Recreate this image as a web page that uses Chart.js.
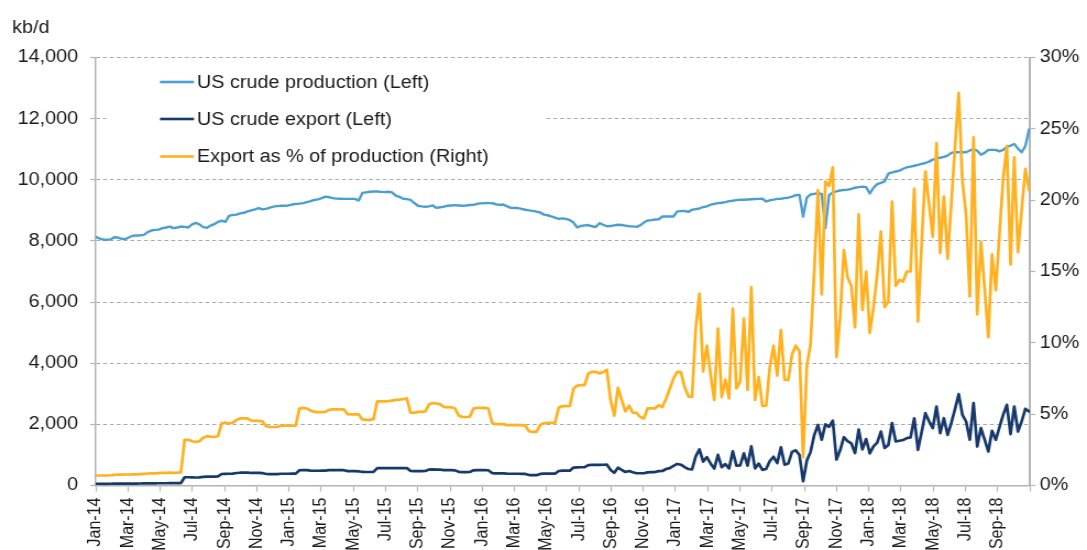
<!DOCTYPE html>
<html>
<head>
<meta charset="utf-8">
<script src="https://cdn.jsdelivr.net/npm/chart.js@4.4.0/dist/chart.umd.min.js"></script>
<style>
  html, body { margin: 0; padding: 0; background: #fff; overflow: hidden; }
  #chart { display: block; }
</style>
</head>
<body>
<canvas id="chart" width="988" height="550" style="width:1087px;height:550px"></canvas>
<script>
// tick labels, one every two months (Nov-18 sits on the right edge, no label)
const monthLabels = [
  'Jan-14', 'Mar-14', 'May-14', 'Jul-14', 'Sep-14', 'Nov-14',
  'Jan-15', 'Mar-15', 'May-15', 'Jul-15', 'Sep-15', 'Nov-15',
  'Jan-16', 'Mar-16', 'May-16', 'Jul-16', 'Sep-16', 'Nov-16',
  'Jan-17', 'Mar-17', 'May-17', 'Jul-17', 'Sep-17', 'Nov-17',
  'Jan-18', 'Mar-18', 'May-18', 'Jul-18', 'Sep-18'
];

// weekly values, first week of Jan-14 onwards (kb/d)
const production = [
  8130, 8080, 8040, 8040, 8050, 8120, 8110, 8070, 8060, 8120,
  8170, 8180, 8180, 8200, 8290, 8340, 8360, 8370, 8420, 8440,
  8470, 8420, 8440, 8470, 8460, 8440, 8540, 8590, 8540, 8450,
  8430, 8500, 8550, 8620, 8660, 8620, 8820, 8850, 8860, 8900,
  8920, 8965, 9000, 9030, 9075, 9030, 9050, 9090, 9120, 9140,
  9150, 9150, 9160, 9190, 9210, 9220, 9237, 9270, 9300, 9340,
  9360, 9400, 9450, 9430, 9400, 9385, 9380, 9375, 9375, 9375,
  9375, 9320, 9570, 9590, 9610, 9615, 9615, 9605, 9595, 9610,
  9590, 9480, 9440, 9380, 9370, 9340, 9240, 9150, 9130, 9120,
  9130, 9160, 9080, 9100, 9120, 9150, 9160, 9170, 9160, 9150,
  9160, 9175, 9180, 9215, 9230, 9237, 9237, 9237, 9200, 9180,
  9190, 9140, 9080, 9075, 9075, 9050, 9020, 9000, 8985, 8960,
  8930, 8860, 8840, 8800, 8765, 8720, 8740, 8720, 8680, 8600,
  8440, 8490, 8510, 8520, 8480, 8455, 8580, 8530, 8480, 8490,
  8510, 8530, 8520, 8500, 8480, 8475, 8460, 8510, 8600, 8670,
  8680, 8700, 8710, 8800, 8800, 8800, 8800, 8965, 8975, 8980,
  8950, 9020, 9040, 9060, 9110, 9130, 9185, 9210, 9237, 9250,
  9270, 9300, 9315, 9335, 9346, 9346, 9355, 9365, 9370, 9375,
  9380, 9290, 9330, 9350, 9374, 9380, 9400, 9418, 9450, 9500,
  9505, 8800, 9420, 9520, 9540, 9560, 9540, 8420, 9500, 9590,
  9620, 9650, 9668, 9680, 9700, 9740, 9760, 9777, 9760, 9550,
  9740, 9860, 9900, 9950, 10200, 10240, 10270, 10300, 10360, 10410,
  10430, 10460, 10490, 10520, 10550, 10595, 10660, 10690, 10720, 10750,
  10790, 10880, 10900, 10900, 10900, 10900, 10960, 11000, 10950, 10820,
  10880, 10980, 10980, 10980, 10930, 10980, 11080, 11120, 11170, 11020,
  10900, 11100, 11650
];

const crudeExport = [
  57, 57, 56, 56, 58, 61, 62, 61, 62, 63,
  64, 64, 65, 67, 70, 71, 71, 73, 74, 74,
  76, 75, 76, 78, 270, 270, 265, 262, 265, 283,
  291, 290, 290, 298, 377, 380, 385, 390, 408, 418,
  420, 423, 410, 410, 410, 408, 377, 373, 374, 375,
  385, 385, 385, 387, 388, 498, 502, 500, 488, 482,
  482, 484, 488, 500, 501, 500, 500, 500, 469, 467,
  468, 465, 443, 441, 442, 447, 567, 567, 566, 569,
  571, 569, 568, 567, 572, 476, 471, 472, 471, 474,
  520, 529, 522, 519, 502, 503, 502, 495, 448, 439,
  440, 443, 496, 501, 502, 502, 499, 406, 396, 395,
  395, 387, 384, 384, 384, 383, 379, 342, 338, 337,
  380, 386, 388, 386, 386, 475, 486, 484, 484, 585,
  591, 597, 600, 669, 676, 674, 673, 678, 687, 510,
  417, 584, 511, 442, 475, 432, 400, 400, 400, 430,
  440, 440, 470, 475, 540, 570, 640, 705, 680, 600,
  540, 530, 950, 1180, 780, 930, 720, 555, 1000, 600,
  700, 560, 1120, 650, 660, 1050, 650, 1280, 560, 715,
  510, 540, 800, 940, 730, 1250, 680, 720, 1100, 1150,
  1000, 140, 820, 1100, 1650, 1980, 1500, 2000, 1920, 2120,
  850, 1160, 1580, 1450, 1380, 1060, 1830, 1180, 1520, 1050,
  1280, 1400, 1765, 1225, 1325, 2038, 1440, 1465, 1490, 1548,
  1570, 2200, 1166, 1750, 2365, 2100, 1875, 2583, 1711, 2200,
  1657, 2050, 2500, 2987, 2310, 2093, 1500, 2692, 1275, 1875,
  1500, 1112, 1788, 1493, 1900, 2310, 2638, 1679, 2583, 1766,
  2100, 2507, 2420
];

// export as % of production (right axis)
const exportShare = [
  0.70, 0.70, 0.70, 0.70, 0.72, 0.75, 0.76, 0.76, 0.77, 0.77,
  0.78, 0.78, 0.80, 0.82, 0.84, 0.85, 0.85, 0.87, 0.88, 0.88,
  0.90, 0.89, 0.90, 0.92, 3.20, 3.20, 3.10, 3.05, 3.10, 3.35,
  3.45, 3.42, 3.40, 3.45, 4.35, 4.40, 4.35, 4.40, 4.60, 4.70,
  4.70, 4.70, 4.55, 4.53, 4.53, 4.50, 4.15, 4.10, 4.10, 4.10,
  4.20, 4.20, 4.20, 4.20, 4.20, 5.40, 5.44, 5.40, 5.25, 5.16,
  5.15, 5.15, 5.16, 5.30, 5.33, 5.33, 5.33, 5.33, 5.00, 4.98,
  4.98, 4.98, 4.63, 4.60, 4.60, 4.65, 5.90, 5.90, 5.90, 5.92,
  5.95, 6.00, 6.02, 6.05, 6.10, 5.10, 5.10, 5.16, 5.16, 5.20,
  5.70, 5.78, 5.75, 5.70, 5.50, 5.50, 5.48, 5.40, 4.90, 4.80,
  4.80, 4.82, 5.40, 5.44, 5.44, 5.44, 5.40, 4.40, 4.30, 4.30,
  4.30, 4.23, 4.23, 4.23, 4.23, 4.23, 4.20, 3.80, 3.76, 3.76,
  4.25, 4.36, 4.39, 4.39, 4.40, 5.45, 5.56, 5.56, 5.58, 6.80,
  7.00, 7.03, 7.05, 7.85, 7.97, 7.97, 7.85, 7.95, 8.10, 6.00,
  4.90, 6.85, 6.00, 5.20, 5.60, 5.10, 5.10, 4.80, 4.70, 5.40,
  5.40, 5.40, 5.63, 5.50, 6.10, 6.80, 7.50, 7.97, 7.95, 6.90,
  6.25, 6.20, 11.0, 13.45, 8.0, 9.8, 7.8, 6.0, 11.0, 6.2,
  7.4, 6.1, 12.4, 6.8, 7.3, 11.7, 6.7, 13.9, 6.0, 7.6,
  5.57, 5.6, 8.3, 9.8, 7.7, 10.9, 7.4, 7.4, 9.2, 9.8,
  9.4, 2.0, 8.4, 9.9, 15.0, 20.7, 13.4, 21.3, 21.0, 22.3,
  9.0, 11.8, 16.5, 14.6, 14.0, 11.1, 19.0, 12.3, 15.0, 10.7,
  12.5, 14.8, 17.8, 12.5, 12.9, 19.9, 14.0, 14.4, 14.3, 15.0,
  15.0, 20.8, 11.5, 17.0, 22.0, 19.7, 17.45, 24.0, 16.3, 20.25,
  15.9, 19.8, 23.7, 27.5, 21.3, 19.0, 13.25, 24.4, 12.0, 17.1,
  13.8, 10.4, 16.2, 13.7, 17.6, 21.5, 23.8, 15.5, 23.0, 16.35,
  19.3, 22.2, 20.7
];

// the source picture is a little wider than tall, so the canvas is drawn
// narrower and stretched by css; sx() turns a page x into a canvas x
const STRETCH = 1087 / 988;
const sx = x => x / STRETCH;
const FONT = '"Liberation Sans", Arial, sans-serif';

// week index -> months since Jan-14
const toPoints = arr => arr.map((v, i) => ({ x: i * 7 / 30.4375, y: v }));

const legendBox = {
  id: 'legendBox',
  beforeDatasetsDraw(chart) {
    // white box behind the legend hides the 12,000 grid line
    const ctx = chart.ctx;
    ctx.save();
    ctx.fillStyle = '#fff';
    ctx.fillRect(sx(106), 62, sx(544) - sx(106), 112);
    ctx.restore();
  },
  afterDraw(chart) {
    const ctx = chart.ctx;
    ctx.save();
    ctx.font = '18px ' + FONT;
    ctx.textBaseline = 'middle';
    ctx.fillStyle = '#1a1a1a';
    ctx.fillText('kb/d', sx(12), 28);
    const rows = [82, 119, 156.5];
    chart.data.datasets.forEach((ds, i) => {
      ctx.strokeStyle = ds.borderColor;
      ctx.lineWidth = 2.6;
      ctx.beginPath();
      ctx.moveTo(sx(160), rows[i]);
      ctx.lineTo(sx(194), rows[i]);
      ctx.stroke();
      ctx.fillText(ds.label, sx(197), rows[i] + 1);
    });
    ctx.restore();
  }
};

Chart.defaults.font.family = FONT;
Chart.defaults.color = '#1a1a1a';

const canvas = document.getElementById('chart');
new Chart(canvas, {
  type: 'line',
  data: {
    datasets: [
      { label: 'US crude production (Left)', data: toPoints(production), borderColor: '#4b9fd0', borderWidth: 2.4, yAxisID: 'y', order: 3 },
      { label: 'US crude export (Left)', data: toPoints(crudeExport), borderColor: '#17396b', borderWidth: 2.7, yAxisID: 'y', order: 2 },
      { label: 'Export as % of production (Right)', data: toPoints(exportShare), borderColor: '#ffb11f', borderWidth: 2.7, yAxisID: 'y1', order: 1 }
    ]
  },
  options: {
    responsive: false,
    animation: false,
    devicePixelRatio: 1,
    layout: { padding: { top: 57.5, left: 0, right: 0, bottom: 0 } },
    elements: {
      point: { radius: 0 },
      line: { tension: 0, borderJoinStyle: 'round', borderCapStyle: 'round' }
    },
    plugins: { legend: { display: false }, tooltip: { enabled: false } },
    scales: {
      x: {
        type: 'linear',
        min: 0,
        max: 58,
        border: { color: '#b4b4b4', width: 1.5 },
        grid: { drawOnChartArea: false, drawTicks: true, tickLength: 6, tickColor: '#b4b4b4', tickWidth: 1.2 },
        ticks: {
          stepSize: 2,
          autoSkip: false,
          maxRotation: 90,
          minRotation: 90,
          padding: 6,
          font: { size: 16 },
          callback: v => monthLabels[v / 2] || ''
        },
        afterFit: s => { s.height = 64.5; }
      },
      y: {
        position: 'left',
        min: 0,
        max: 14000,
        border: { color: '#b4b4b4', width: 1.5, dash: [3.5, 2.7] },
        grid: { color: '#a8a8a8', lineWidth: 1, tickLength: 5, tickColor: '#b4b4b4', tickWidth: 1.2 },
        ticks: {
          stepSize: 2000,
          padding: 11,
          font: { size: 18 },
          callback: v => v.toLocaleString('en-US')
        },
        afterFit: s => { s.width = 87; }
      },
      y1: {
        position: 'right',
        min: 0,
        max: 30,
        border: { color: '#b4b4b4', width: 2 },
        grid: { drawOnChartArea: false, tickLength: 5, tickColor: '#b4b4b4', tickWidth: 1.2 },
        ticks: {
          stepSize: 5,
          padding: 4,
          font: { size: 18 },
          callback: v => v + '%'
        },
        afterFit: s => { s.width = 52; }
      }
    }
  },
  plugins: [legendBox]
});
// keep the css stretch even if the library rewrote the inline size
canvas.style.width = '1087px';
canvas.style.height = '550px';
</script>
</body>
</html>
